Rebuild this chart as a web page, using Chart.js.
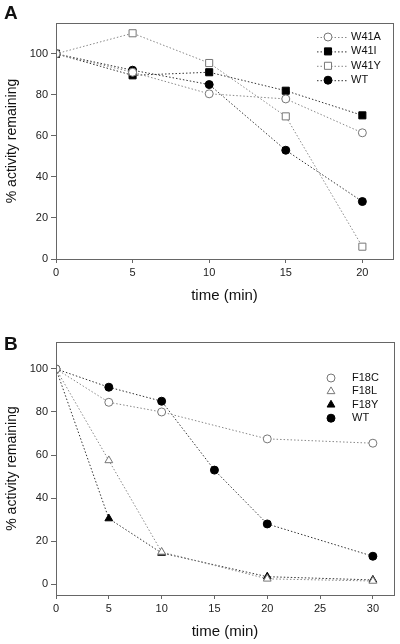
<!DOCTYPE html>
<html><head><meta charset="utf-8">
<script src="https://cdn.jsdelivr.net/npm/chart.js@4.4.0/dist/chart.umd.min.js"></script>
<style>
html,body{margin:0;padding:0;background:#fff;}
#wrap{position:relative;width:400px;height:644px;overflow:hidden;font-family:"Liberation Sans",Arial,sans-serif;}
.panel{position:absolute;left:0;width:400px;}
.lab{position:absolute;left:4px;font-weight:bold;font-size:19px;color:#111;font-family:"Liberation Sans",Arial,sans-serif;}
</style></head>
<body><div id="wrap">
<div class="panel" style="top:0;height:320px"><canvas id="cA" width="400" height="320"></canvas></div>
<div class="panel" style="top:320px;height:324px"><canvas id="cB" width="400" height="324"></canvas></div>
<div class="lab" style="top:2px">A</div>
<div class="lab" style="top:333px">B</div>
</div>
<script>
// ---- Panel A data ----
const timeA = [0, 5, 10, 15, 20];
const W41A = [100, 91, 80.5, 78, 61.5];
const W41I = [100, 89.5, 91, 82, 70];
const W41Y = [100, 110, 95.5, 69.5, 6];
const WT_A = [100, 92, 85, 53, 28];
const xTicksA = [0, 5, 10, 15, 20];
const yTicksA = [0, 20, 40, 60, 80, 100];

// ---- Panel B data ----
const timeB = [0, 5, 10, 20, 30];
const timeB_WT = [0, 5, 10, 15, 20, 30];
const F18C = [100, 84.5, 80, 67.5, 65.5];
const F18L = [100, 57.5, 15, 2.5, 1.5];
const F18Y = [100, 30.5, 14.5, 3.5, 2];
const WT_B = [100, 91.5, 85, 53, 28, 13];
const xTicksB = [0, 5, 10, 15, 20, 25, 30];
const yTicksB = [0, 20, 40, 60, 80, 100];

const FONT = '"Liberation Sans", Arial, sans-serif';
const pts = (xs, ys) => xs.map((x, i) => ({x: x, y: ys[i]}));

function ds(label, xs, ys, style, filled, r) {
  return {
    label: label,
    data: pts(xs, ys),
    showLine: true,
    borderColor: filled ? '#333' : '#888',
    borderWidth: 1,
    borderDash: [1.5, 2],
    pointStyle: style,
    pointRadius: r,
    pointHoverRadius: r,
    pointBackgroundColor: filled ? '#000' : '#fff',
    pointBorderColor: filled ? '#000' : '#777',
    pointBorderWidth: 1,
    fill: false,
    tension: 0
  };
}

function drawMarker(ctx, style, x, y, r, fillC, strokeC) {
  ctx.save();
  ctx.beginPath();
  if (style === 'circle') {
    ctx.arc(x, y, r, 0, Math.PI * 2);
  } else if (style === 'rect') {
    const s = r * Math.SQRT1_2;
    ctx.rect(x - s, y - s, 2 * s, 2 * s);
  } else if (style === 'triangle') {
    ctx.moveTo(x, y - r);
    ctx.lineTo(x + r * 0.866, y + r * 0.5);
    ctx.lineTo(x - r * 0.866, y + r * 0.5);
    ctx.closePath();
  }
  ctx.fillStyle = fillC;
  ctx.fill();
  ctx.strokeStyle = strokeC;
  ctx.lineWidth = 1;
  ctx.stroke();
  ctx.restore();
}

const framePlugin = {
  id: 'frame',
  afterDraw(chart) {
    const a = chart.chartArea, ctx = chart.ctx;
    ctx.save();
    ctx.strokeStyle = '#666';
    ctx.lineWidth = 1;
    ctx.strokeRect(Math.round(a.left) + 0.5, Math.round(a.top) + 0.5, Math.round(a.right - a.left), Math.round(a.bottom - a.top));
    ctx.restore();
  }
};

const legendPlugin = {
  id: 'customLegend',
  afterDraw(chart, args, opts) {
    const ctx = chart.ctx;
    ctx.save();
    ctx.font = '11px ' + FONT;
    ctx.textBaseline = 'middle';
    ctx.fillStyle = '#111';
    chart.data.datasets.forEach((d, i) => {
      const y = opts.y0 + i * opts.dy;
      if (opts.lines) {
        ctx.save();
        ctx.strokeStyle = d.borderColor;
        ctx.setLineDash([1.5, 2]);
        ctx.beginPath();
        ctx.moveTo(opts.lx0, y + 0.5);
        ctx.lineTo(opts.lx1, y + 0.5);
        ctx.stroke();
        ctx.restore();
      }
      drawMarker(ctx, d.pointStyle, opts.mx, y, d.pointRadius, d.pointBackgroundColor, d.pointBorderColor);
      ctx.fillStyle = '#111';
      ctx.fillText(d.label, opts.tx, y);
    });
    ctx.restore();
  }
};

function makeChart(id, datasets, xr, yr, xTicks, yTicks, area, H, titlePadBottom, legendOpts) {
  return new Chart(document.getElementById(id), {
    type: 'scatter',
    data: {datasets: datasets},
    plugins: [framePlugin, legendPlugin],
    options: {
      responsive: false,
      animation: false,
      events: [],
      layout: {padding: {left: 0, right: 400 - area.right, top: area.top, bottom: 0}},
      plugins: {
        legend: {display: false},
        tooltip: {enabled: false},
        customLegend: legendOpts
      },
      scales: {
        x: {
          type: 'linear', min: xr[0], max: xr[1],
          afterBuildTicks: s => { s.ticks = xTicks.map(v => ({value: v})); },
          afterFit: s => { s.height = H - area.bottom; },
          grid: {display: true, drawOnChartArea: false, drawTicks: true, tickLength: 4, color: '#666'},
          border: {display: true, color: '#666'},
          ticks: {font: {family: FONT, size: 11}, color: '#222', padding: 3, maxRotation: 0},
          title: {display: true, text: 'time (min)', font: {family: FONT, size: 15}, color: '#111', padding: {top: 4, bottom: titlePadBottom}}
        },
        y: {
          type: 'linear', min: yr[0], max: yr[1],
          afterBuildTicks: s => { s.ticks = yTicks.map(v => ({value: v})); },
          afterFit: s => { s.width = area.left; },
          grid: {display: true, drawOnChartArea: false, drawTicks: true, tickLength: 5, color: '#666'},
          border: {display: true, color: '#666'},
          ticks: {font: {family: FONT, size: 11}, color: '#222', padding: 3},
          title: {display: true, text: '% activity remaining', font: {family: FONT, size: 14}, color: '#111', padding: {bottom: 2}}
        }
      }
    }
  });
}

makeChart('cA', [
  ds('W41A', timeA, W41A, 'circle', false, 4),
  ds('W41I', timeA, W41I, 'rect', true, 5),
  ds('W41Y', timeA, W41Y, 'rect', false, 5),
  ds('WT', timeA, WT_A, 'circle', true, 4)
], [0, 22], [0, 115], xTicksA, yTicksA, {left: 56, right: 393, top: 23, bottom: 259}, 320, 15,
  {y0: 37, dy: 14.4, lines: true, lx0: 317, lx1: 347, mx: 328, tx: 351});

makeChart('cB', [
  ds('F18C', timeB, F18C, 'circle', false, 4),
  ds('F18L', timeB, F18L, 'triangle', false, 4.5),
  ds('F18Y', timeB, F18Y, 'triangle', true, 4.5),
  ds('WT', timeB_WT, WT_B, 'circle', true, 4)
], [0, 32], [-5, 112.5], xTicksB, yTicksB, {left: 56, right: 394, top: 22, bottom: 275}, 324, 3,
  {y0: 58, dy: 13.4, lines: false, lx0: 0, lx1: 0, mx: 331, tx: 352});
</script>
</body></html>
